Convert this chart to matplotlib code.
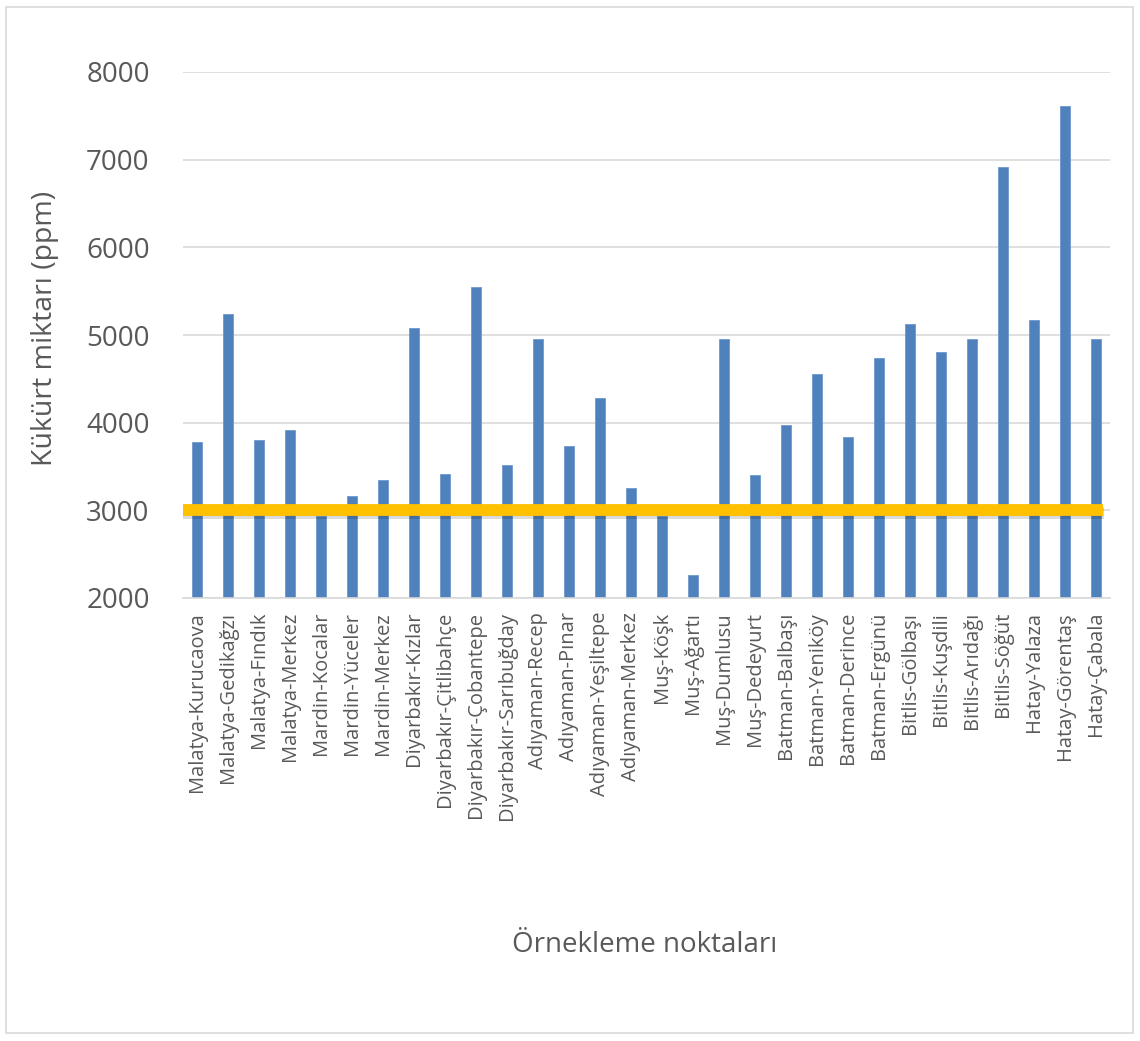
import matplotlib
matplotlib.use("Agg")
import matplotlib.pyplot as plt
import matplotlib.patheffects as pe
from matplotlib.patches import Rectangle

plt.rcParams['font.family'] = ['Open Sans', 'DejaVu Sans']

stations = [
    "Malatya-Kurucaova", "Malatya-Gedikağzı", "Malatya-Fındık", "Malatya-Merkez",
    "Mardin-Kocalar", "Mardin-Yüceler", "Mardin-Merkez", "Diyarbakır-Kızlar",
    "Diyarbakır-Çitlibahçe", "Diyarbakır-Çobantepe", "Diyarbakır-Sarıbuğday",
    "Adıyaman-Recep", "Adıyaman-Pınar", "Adıyaman-Yeşiltepe", "Adıyaman-Merkez",
    "Muş-Köşk", "Muş-Ağartı", "Muş-Dumlusu", "Muş-Dedeyurt", "Batman-Balbaşı",
    "Batman-Yeniköy", "Batman-Derince", "Batman-Ergünü", "Bitlis-Gölbaşı",
    "Bitlis-Kuşdili", "Bitlis-Arıdağı", "Bitlis-Söğüt", "Hatay-Yalaza",
    "Hatay-Görentaş", "Hatay-Çabala",
]
sulfur_ppm = [
    3780, 5240, 3800, 3920,
    2940, 3160, 3350, 5080,
    3410, 5550, 3520,
    4960, 3730, 4280, 3260,
    2940, 2260, 4950, 3400, 3970,
    4550, 3840, 4740, 5130,
    4810, 4950, 6920, 5170,
    7610, 4950,
]
limit_ppm = 3000
y_ticks = [2000, 3000, 4000, 5000, 6000, 7000, 8000]

W, H = 1140, 1041
fig = plt.figure(figsize=(W / 100, H / 100), dpi=100)
fig.patch.set_facecolor('white')

# outer frame of the chart area
fig.add_artist(Rectangle((6 / W, 8 / H), 1127 / W, 1026 / H, transform=fig.transFigure,
                         fill=False, edgecolor='#D9D9D9', linewidth=1.2))

ax = fig.add_axes([183 / W, 1 - 598 / H, (1110 - 183) / W, (598 - 72) / H])
x = range(len(stations))
ax.bar(x, [v - 2000 for v in sulfur_ppm], bottom=2000, width=0.33, color='#4F81BD',
       edgecolor='#6F98CC', linewidth=0.6, zorder=2)

ax.axhline(limit_ppm, xmin=-0.001, xmax=0.992, color='#FFC000', linewidth=8.5, zorder=3,
           solid_capstyle='butt',
           path_effects=[pe.SimpleLineShadow(offset=(1, -2), shadow_color='#000000', alpha=0.15),
                         pe.Normal()])

ax.set_xlim(-0.45, len(stations) - 0.55)
ax.set_ylim(2000, 8000)
ax.set_yticks(y_ticks)
ax.set_yticklabels([str(t) for t in y_ticks])
ax.yaxis.grid(True, color='#D9D9D9', linewidth=1.2, zorder=0)
ax.set_axisbelow(True)
for side in ['top', 'right', 'left']:
    ax.spines[side].set_visible(False)
ax.spines['bottom'].set_color('#D9D9D9')
ax.spines['bottom'].set_linewidth(1.2)

ax.set_xticks(list(x))
ax.set_xticklabels(stations, rotation=90, fontsize=14.5, color='#595959')
ax.tick_params(axis='x', length=0, pad=10)
ax.tick_params(axis='y', length=0, pad=24, labelsize=20, labelcolor='#595959')

fig.text(45 / W, 1 - 328 / H, 'Kükürt miktarı (ppm)', rotation=90, ha='center', va='center',
         fontsize=20.5, color='#595959')
fig.text(645 / W, 1 - 945 / H, 'Örnekleme noktaları', ha='center', va='center',
         fontsize=20, color='#595959')

fig.savefig('out.png', dpi=100)
